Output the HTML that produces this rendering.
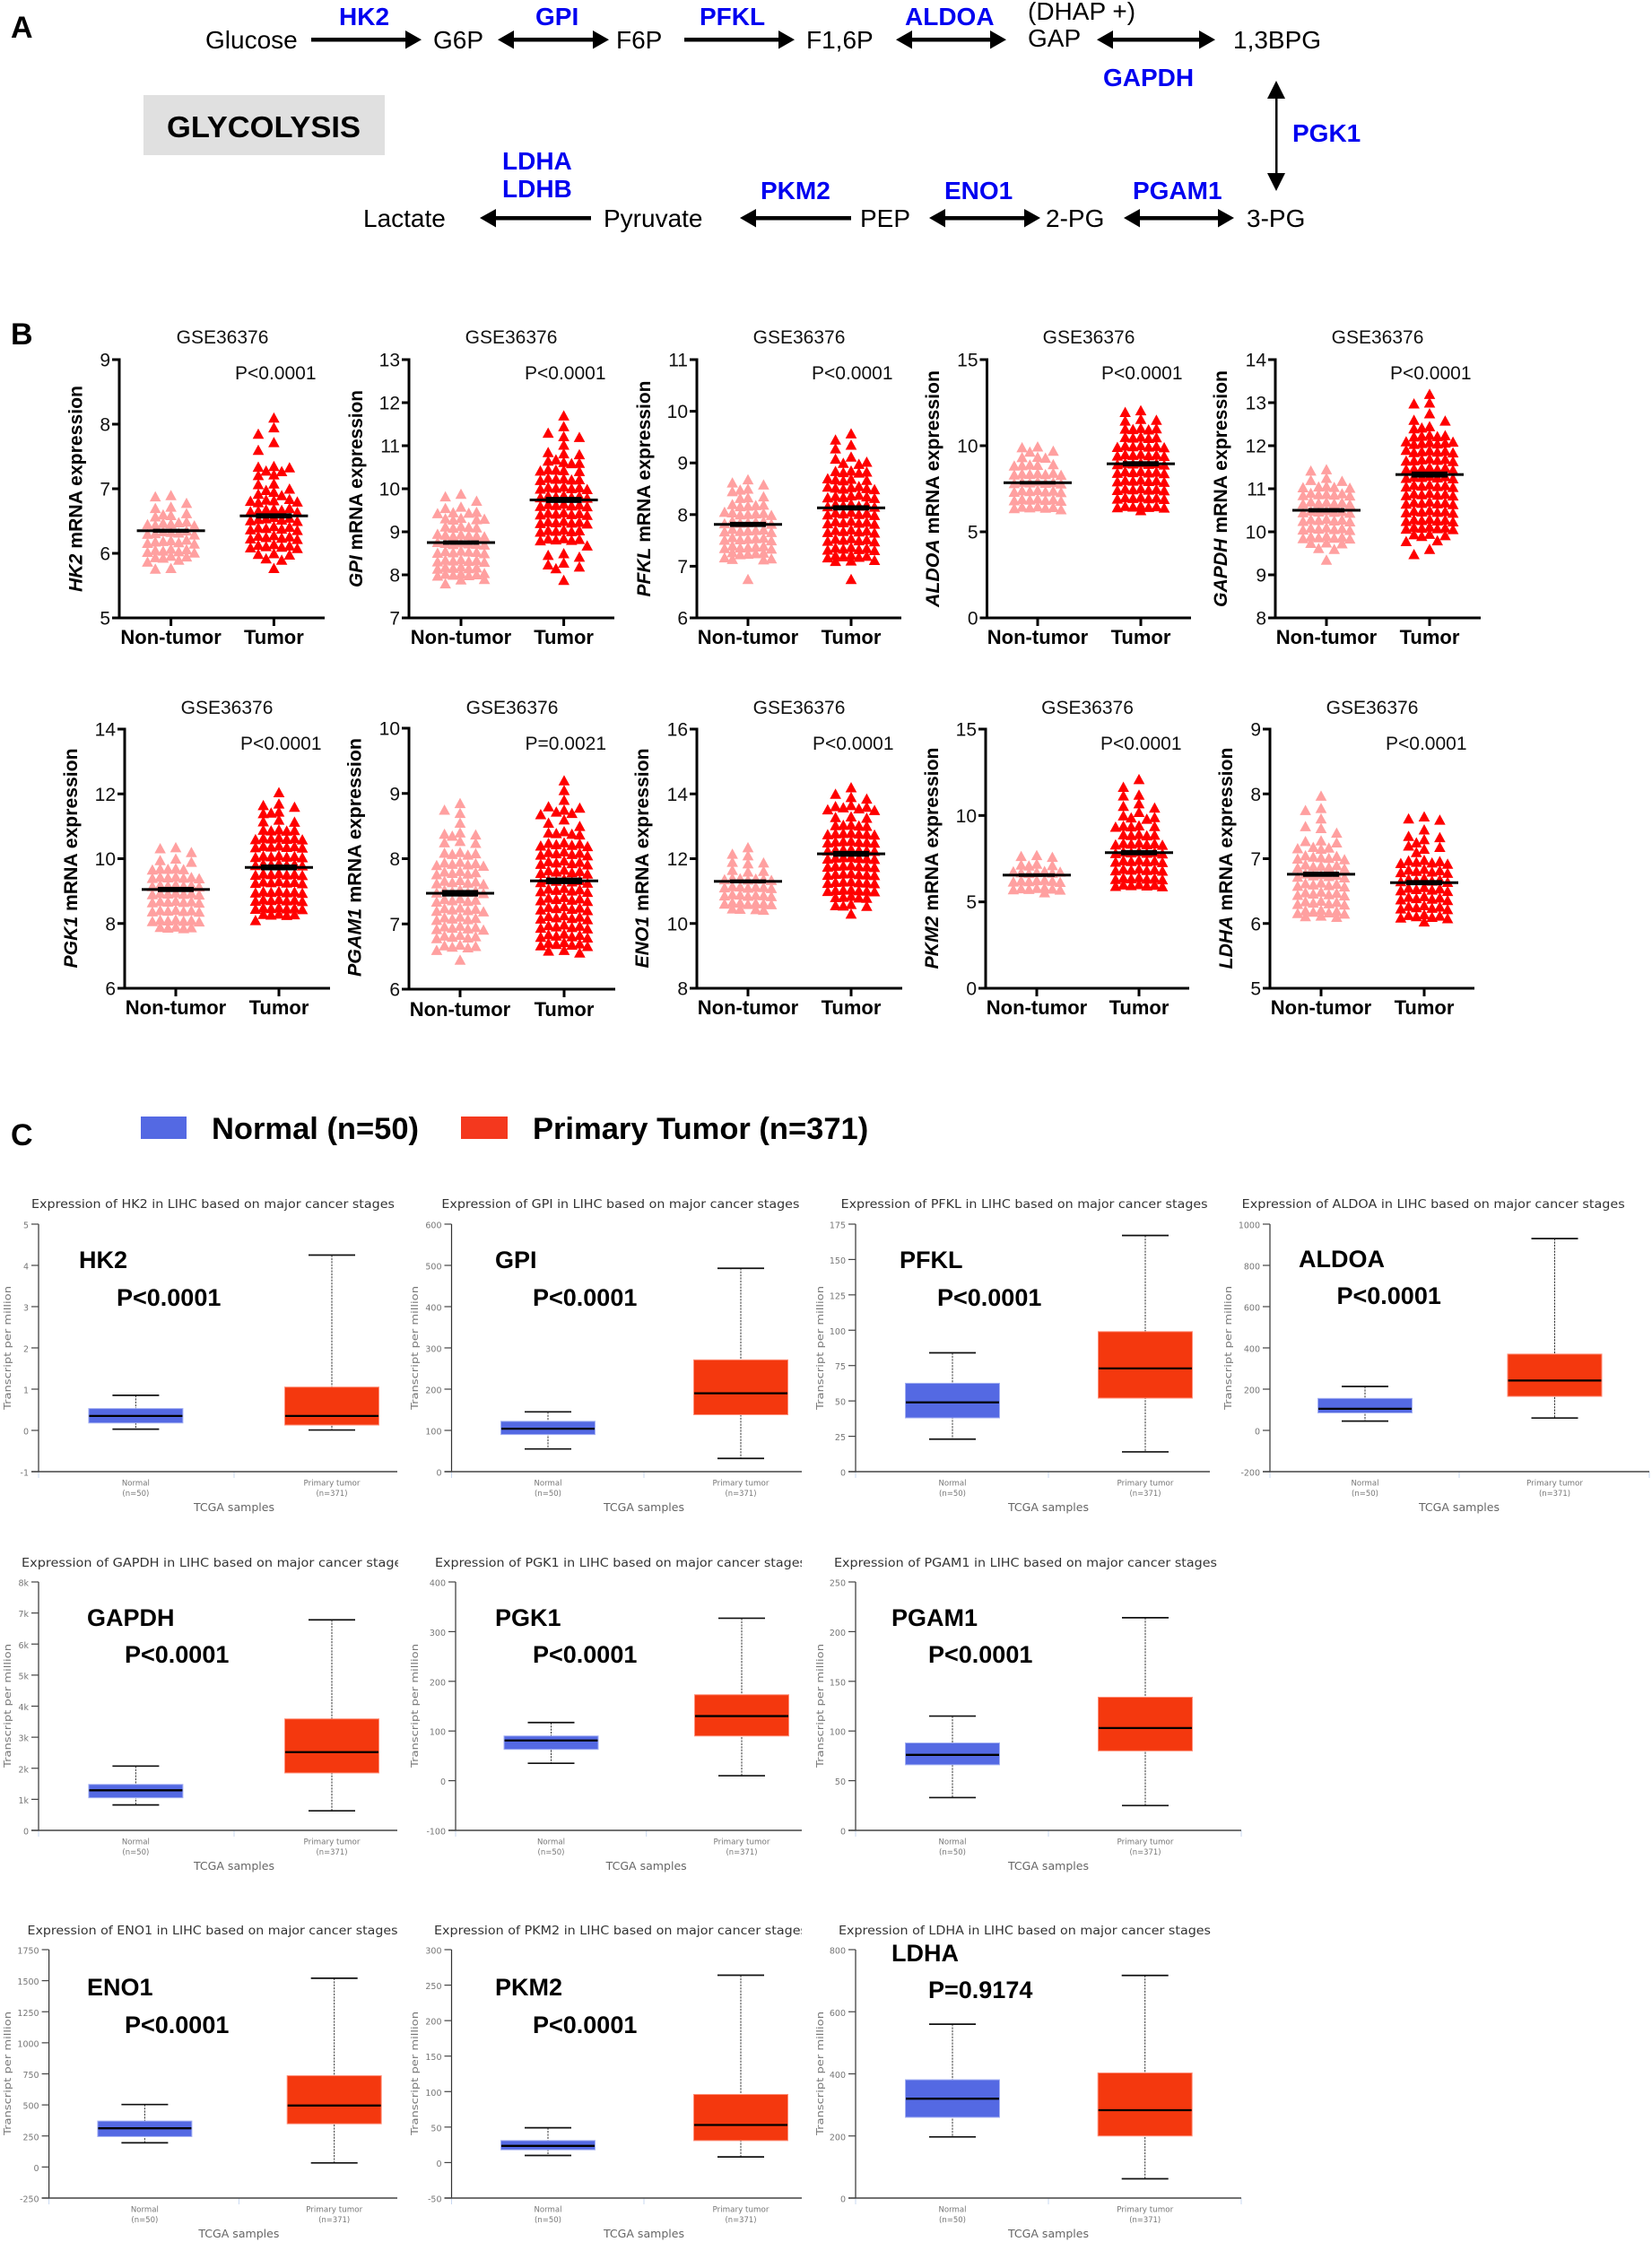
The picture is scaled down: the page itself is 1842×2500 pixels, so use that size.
<!DOCTYPE html>
<html lang="en">
<head>
<meta charset="utf-8">
<title>Glycolysis gene expression figure</title>
<style>
html,body{margin:0;padding:0;background:#fff;}
svg{display:block;}
.lib{font-family:"Liberation Sans",sans-serif;}
.met{font-size:28px;fill:#000;}
.enz{font-size:28px;font-weight:bold;fill:#0000f0;}
.pan{font-size:34px;font-weight:bold;fill:#000;}
</style>
</head>
<body>
<svg id="figure" class="lib" xmlns="http://www.w3.org/2000/svg" width="1842" height="2500" viewBox="0 0 1842 2500">
<defs>
<clipPath id="clip-col1"><rect x="0" y="1300" width="444" height="1200"/></clipPath>
<clipPath id="clip-col2"><rect x="450" y="1300" width="444" height="1200"/></clipPath>
</defs>
<rect width="1842" height="2500" fill="#fff"/>

<g id="panel-a">
<text class="pan" x="12" y="42">A</text>
<rect x="160" y="106" width="269" height="67" fill="#e0e0e0"/>
<text x="186" y="153" font-size="33.5" font-weight="bold" fill="#000" textLength="216" lengthAdjust="spacingAndGlyphs">GLYCOLYSIS</text>

<text class="met" x="229" y="54">Glucose</text>
<text class="met" x="483" y="54">G6P</text>
<text class="met" x="687" y="54">F6P</text>
<text class="met" x="899" y="54">F1,6P</text>
<text class="met" x="1146" y="22">(DHAP +)</text>
<text class="met" x="1146" y="52">GAP</text>
<text class="met" x="1375" y="54">1,3BPG</text>
<text class="met" x="405" y="253">Lactate</text>
<text class="met" x="673" y="253">Pyruvate</text>
<text class="met" x="959" y="253">PEP</text>
<text class="met" x="1166" y="253">2-PG</text>
<text class="met" x="1390" y="253">3-PG</text>

<text class="enz" x="378" y="28">HK2</text>
<text class="enz" x="597" y="28">GPI</text>
<text class="enz" x="780" y="28">PFKL</text>
<text class="enz" x="1009" y="28">ALDOA</text>
<text class="enz" x="1230" y="96">GAPDH</text>
<text class="enz" x="1441" y="158">PGK1</text>
<text class="enz" x="560" y="189">LDHA</text>
<text class="enz" x="560" y="220">LDHB</text>
<text class="enz" x="848" y="222">PKM2</text>
<text class="enz" x="1053" y="222">ENO1</text>
<text class="enz" x="1263" y="222">PGAM1</text>

<g><rect x="347" y="42" width="108" height="4.5"/><polygon points="470,44.3 452,34 452,54.5"/></g>
<g><rect x="570" y="42" width="94" height="4.5"/><polygon points="679,44.3 661,34 661,54.5"/><polygon points="555,44.3 573,34 573,54.5"/></g>
<g><rect x="763" y="42" width="108" height="4.5"/><polygon points="886,44.3 868,34 868,54.5"/></g>
<g><rect x="1014" y="42" width="94" height="4.5"/><polygon points="1122,44.3 1104,34 1104,54.5"/><polygon points="999,44.3 1017,34 1017,54.5"/></g>
<g><rect x="1238" y="42" width="102" height="4.5"/><polygon points="1355,44.3 1337,34 1337,54.5"/><polygon points="1223,44.3 1241,34 1241,54.5"/></g>
<g><rect x="1422" y="105" width="2.5" height="94"/><polygon points="1423,90 1413,110 1433,110"/><polygon points="1423,213 1413,193 1433,193"/></g>
<g><rect x="550" y="241" width="109" height="4.5"/><polygon points="535,243 553,233 553,253.5"/></g>
<g><rect x="840" y="241" width="109" height="4.5"/><polygon points="825,243 843,233 843,253.5"/></g>
<g><rect x="1050" y="241" width="96" height="4.5"/><polygon points="1160,243 1142,233 1142,253.5"/><polygon points="1036,243 1054,233 1054,253.5"/></g>
<g><rect x="1268" y="241" width="94" height="4.5"/><polygon points="1376,243 1358,233 1358,253.5"/><polygon points="1253,243 1271,233 1271,253.5"/></g>
</g>

<text class="pan" x="12" y="384">B</text>
<g id="panel-b"></g>

<g id="panel-c">
<text class="pan" x="12" y="1277">C</text>
<g>
<rect x="157" y="1245" width="51" height="25" fill="#5469e3"/>
<text x="236" y="1270" font-size="34.5" font-weight="bold" fill="#000">Normal (n=50)</text>
<rect x="514" y="1245" width="52" height="25" fill="#f4381e"/>
<text x="594" y="1270" font-size="34.5" font-weight="bold" fill="#000">Primary Tumor (n=371)</text>
</g>
</g>
</svg>

<script>
// ---------- Panel B data ----------
const swarmGenes = ['HK2','GPI','PFKL','ALDOA','GAPDH','PGK1','PGAM1','ENO1','PKM2','LDHA'];
const swarmPValues = ['P<0.0001','P<0.0001','P<0.0001','P<0.0001','P<0.0001','P<0.0001','P=0.0021','P<0.0001','P<0.0001','P<0.0001'];
const swarmCategories = ['Non-tumor','Tumor'];
const swarmTitle = 'GSE36376';
const swarmTicks = [[5,6,7,8,9],[7,8,9,10,11,12,13],[6,7,8,9,10,11],[0,5,10,15],[8,9,10,11,12,13,14],[6,8,10,12,14],[6,7,8,9,10],[8,10,12,14,16],[0,5,10,15],[5,6,7,8,9]];
const swarmMeanNormal = [6.35,8.75,7.81,7.85,10.5,9.05,7.47,11.3,6.55,6.76];
const swarmMeanTumor = [6.58,9.74,8.13,8.95,11.33,9.73,7.66,12.15,7.85,6.63];
const swarmSemNormal = [0.03,0.05,0.05,0.1,0.05,0.08,0.05,0.06,0.1,0.04];
const swarmSemTumor = [0.04,0.07,0.05,0.15,0.07,0.09,0.05,0.09,0.15,0.04];

const hk2Normal = [6.90,6.88,6.78,6.72,6.70,6.62,6.60,6.59,6.57,6.49,6.48,6.47,6.46,6.45,6.44,6.43,6.35,6.34,6.33,6.32,6.31,6.30,6.29,6.21,6.20,6.19,6.18,6.17,6.16,6.15,6.07,6.06,6.05,6.04,6.03,6.02,6.01,5.96,5.95,5.94,5.93,5.90,5.87,5.77,5.76];
const hk2Tumor = [8.10,7.95,7.85,7.72,7.60,7.35,7.34,7.33,7.28,7.27,7.22,7.21,7.08,7.07,7.00,6.98,6.95,6.92,6.90,6.84,6.83,6.82,6.81,6.80,6.79,6.70,6.69,6.68,6.67,6.66,6.65,6.64,6.56,6.55,6.54,6.53,6.52,6.51,6.50,6.42,6.41,6.40,6.39,6.38,6.37,6.36,6.28,6.27,6.26,6.25,6.24,6.23,6.22,6.14,6.13,6.12,6.11,6.10,6.09,6.08,6.00,5.99,5.98,5.92,5.90,5.77];
const gpiNormal = [9.88,9.82,9.72,9.58,9.55,9.46,9.45,9.44,9.43,9.32,9.31,9.30,9.29,9.28,9.13,9.12,9.11,9.10,9.09,8.95,8.94,8.93,8.92,8.91,8.90,8.89,8.76,8.75,8.74,8.73,8.72,8.71,8.70,8.56,8.55,8.54,8.53,8.52,8.51,8.50,8.36,8.35,8.34,8.33,8.32,8.31,8.30,8.19,8.18,8.17,8.16,8.15,8.14,8.04,8.03,8.02,8.01,8.00,7.99,7.98,7.90,7.89,7.80];
const gpiTumor = [11.70,11.45,11.30,11.22,11.20,11.02,10.85,10.82,10.80,10.68,10.65,10.62,10.60,10.59,10.45,10.44,10.43,10.42,10.41,10.25,10.24,10.23,10.22,10.21,10.20,10.05,10.04,10.03,10.02,10.01,10.00,9.99,9.85,9.84,9.83,9.82,9.81,9.80,9.79,9.65,9.64,9.63,9.62,9.61,9.60,9.59,9.45,9.44,9.43,9.42,9.41,9.40,9.39,9.25,9.24,9.23,9.22,9.21,9.20,9.19,9.05,9.04,9.03,9.02,9.01,9.00,8.85,8.84,8.83,8.82,8.81,8.80,8.68,8.50,8.46,8.42,8.28,8.24,8.19,8.15,7.88];
const pfklNormal = [8.68,8.62,8.58,8.50,8.48,8.45,8.35,8.33,8.32,8.20,8.19,8.18,8.17,8.16,8.05,8.04,8.03,8.02,8.01,8.00,7.99,7.88,7.87,7.86,7.85,7.84,7.83,7.82,7.72,7.71,7.70,7.69,7.68,7.67,7.66,7.56,7.55,7.54,7.53,7.52,7.51,7.50,7.40,7.39,7.38,7.37,7.36,7.35,7.34,7.27,7.26,7.25,7.24,7.23,7.17,7.15,7.14,7.13,6.75];
const pfklTumor = [9.57,9.45,9.35,9.28,9.12,9.08,9.02,9.00,8.98,8.85,8.84,8.83,8.82,8.81,8.70,8.69,8.68,8.67,8.66,8.55,8.54,8.53,8.52,8.51,8.50,8.49,8.38,8.37,8.36,8.35,8.34,8.33,8.32,8.21,8.20,8.19,8.18,8.17,8.16,8.15,8.05,8.04,8.03,8.02,8.01,8.00,7.99,7.88,7.87,7.86,7.85,7.84,7.83,7.82,7.71,7.70,7.69,7.68,7.67,7.66,7.65,7.54,7.53,7.52,7.51,7.50,7.49,7.48,7.37,7.36,7.35,7.34,7.33,7.32,7.31,7.22,7.21,7.20,7.19,7.18,7.17,7.12,7.11,7.10,6.75];
const aldoaNormal = [9.95,9.90,9.70,9.65,9.35,9.33,9.30,8.92,8.90,8.88,8.86,8.84,8.42,8.40,8.38,8.36,8.34,8.32,8.30,7.92,7.90,7.88,7.86,7.84,7.82,7.80,7.42,7.40,7.38,7.36,7.34,7.32,7.30,6.92,6.90,6.88,6.86,6.84,6.82,6.80,6.47,6.45,6.43,6.41,6.39,6.37,6.30];
const aldoaTumor = [12.05,11.95,11.55,11.50,11.45,11.02,11.00,10.98,10.96,10.94,10.52,10.50,10.48,10.46,10.44,10.02,10.00,9.98,9.96,9.94,9.92,9.90,9.52,9.50,9.48,9.46,9.44,9.42,9.40,9.02,9.00,8.98,8.96,8.94,8.92,8.90,8.52,8.50,8.48,8.46,8.44,8.42,8.40,8.02,8.00,7.98,7.96,7.94,7.92,7.90,7.52,7.50,7.48,7.46,7.44,7.42,7.40,7.02,7.00,6.98,6.96,6.94,6.92,6.90,6.52,6.50,6.48,6.46,6.44,6.42,6.40,6.25];
const gapdhNormal = [11.45,11.42,11.25,11.20,11.18,11.06,11.05,11.04,11.03,11.02,10.90,10.89,10.88,10.87,10.86,10.85,10.84,10.70,10.69,10.68,10.67,10.66,10.65,10.64,10.50,10.49,10.48,10.47,10.46,10.45,10.44,10.30,10.29,10.28,10.27,10.26,10.25,10.24,10.10,10.09,10.08,10.07,10.06,10.05,10.04,9.90,9.89,9.88,9.87,9.86,9.85,9.84,9.75,9.74,9.73,9.62,9.60,9.35];
const gapdhTumor = [13.20,13.00,12.98,12.75,12.60,12.58,12.45,12.42,12.40,12.25,12.24,12.23,12.22,12.21,12.10,12.09,12.08,12.07,12.06,12.05,12.04,11.90,11.89,11.88,11.87,11.86,11.85,11.84,11.70,11.69,11.68,11.67,11.66,11.65,11.64,11.50,11.49,11.48,11.47,11.46,11.45,11.44,11.30,11.29,11.28,11.27,11.26,11.25,11.24,11.10,11.09,11.08,11.07,11.06,11.05,11.04,10.90,10.89,10.88,10.87,10.86,10.85,10.84,10.70,10.69,10.68,10.67,10.66,10.65,10.64,10.50,10.49,10.48,10.47,10.46,10.45,10.44,10.30,10.29,10.28,10.27,10.26,10.25,10.24,10.12,10.11,10.10,10.09,10.08,10.07,10.06,9.95,9.94,9.92,9.90,9.80,9.78,9.60,9.48];
const pgk1Normal = [10.35,10.32,10.20,10.00,9.95,9.90,9.70,9.69,9.68,9.67,9.66,9.45,9.44,9.43,9.42,9.41,9.40,9.39,9.20,9.19,9.18,9.17,9.16,9.15,9.14,8.95,8.94,8.93,8.92,8.91,8.90,8.89,8.70,8.69,8.68,8.67,8.66,8.65,8.64,8.42,8.41,8.40,8.39,8.38,8.37,8.36,8.12,8.11,8.10,8.09,8.08,8.07,8.06,7.90,7.89,7.88,7.87,7.85];
const pgk1Tumor = [12.05,11.70,11.65,11.60,11.45,11.42,11.40,11.20,11.15,11.14,10.90,10.89,10.88,10.87,10.86,10.65,10.64,10.63,10.62,10.61,10.60,10.59,10.40,10.39,10.38,10.37,10.36,10.35,10.34,10.10,10.09,10.08,10.07,10.06,10.05,10.04,9.85,9.84,9.83,9.82,9.81,9.80,9.79,9.55,9.54,9.53,9.52,9.51,9.50,9.49,9.30,9.29,9.28,9.27,9.26,9.25,9.24,9.00,8.99,8.98,8.97,8.96,8.95,8.94,8.75,8.74,8.73,8.72,8.71,8.70,8.69,8.50,8.49,8.48,8.47,8.46,8.45,8.44,8.30,8.29,8.28,8.27,8.26,8.10];
const pgam1Normal = [8.85,8.75,8.70,8.55,8.40,8.38,8.37,8.35,8.27,8.25,8.24,8.10,8.09,8.08,8.07,8.06,7.95,7.94,7.93,7.92,7.91,7.90,7.89,7.81,7.80,7.79,7.78,7.77,7.76,7.67,7.66,7.65,7.64,7.63,7.62,7.61,7.53,7.52,7.51,7.50,7.49,7.48,7.47,7.39,7.38,7.37,7.36,7.35,7.34,7.25,7.24,7.23,7.22,7.21,7.20,7.19,7.11,7.10,7.09,7.08,7.07,7.06,6.97,6.96,6.95,6.94,6.93,6.92,6.91,6.83,6.82,6.81,6.80,6.79,6.78,6.68,6.67,6.66,6.65,6.64,6.60,6.45];
const pgam1Tumor = [9.20,9.05,8.90,8.80,8.78,8.75,8.72,8.70,8.68,8.60,8.55,8.50,8.42,8.40,8.39,8.38,8.37,8.25,8.24,8.23,8.22,8.21,8.20,8.19,8.11,8.10,8.09,8.08,8.07,8.06,8.05,7.97,7.96,7.95,7.94,7.93,7.92,7.91,7.83,7.82,7.81,7.80,7.79,7.78,7.77,7.69,7.68,7.67,7.66,7.65,7.64,7.63,7.55,7.54,7.53,7.52,7.51,7.50,7.49,7.41,7.40,7.39,7.38,7.37,7.36,7.35,7.27,7.26,7.25,7.24,7.23,7.22,7.21,7.13,7.12,7.11,7.10,7.09,7.08,7.07,6.99,6.98,6.97,6.96,6.95,6.94,6.93,6.85,6.84,6.83,6.82,6.81,6.80,6.79,6.72,6.71,6.70,6.69,6.68,6.67,6.66,6.60,6.59,6.56];
const eno1Normal = [12.35,12.15,12.10,11.90,11.88,11.85,11.65,11.62,11.60,11.40,11.39,11.38,11.37,11.36,11.35,11.34,11.15,11.14,11.13,11.12,11.11,11.10,11.09,10.90,10.89,10.88,10.87,10.86,10.85,10.84,10.65,10.64,10.63,10.62,10.61,10.60,10.59,10.46,10.45,10.44,10.42];
const eno1Tumor = [14.20,14.00,13.90,13.85,13.65,13.62,13.60,13.58,13.55,13.52,13.50,13.30,13.28,13.26,13.05,13.04,13.03,13.02,13.01,12.80,12.79,12.78,12.77,12.76,12.75,12.74,12.55,12.54,12.53,12.52,12.51,12.50,12.49,12.30,12.29,12.28,12.27,12.26,12.25,12.24,12.05,12.04,12.03,12.02,12.01,12.00,11.99,11.80,11.79,11.78,11.77,11.76,11.75,11.74,11.55,11.54,11.53,11.52,11.51,11.50,11.49,11.30,11.29,11.28,11.27,11.26,11.25,11.24,11.05,11.04,11.03,11.02,11.01,11.00,10.99,10.85,10.82,10.81,10.80,10.79,10.60,10.56,10.55,10.54,10.30];
const pkm2Normal = [7.70,7.65,7.60,7.20,7.15,7.12,7.10,6.78,6.76,6.74,6.72,6.70,6.68,6.66,6.27,6.25,6.23,6.21,6.19,6.17,6.15,5.82,5.80,5.78,5.76,5.74,5.72,5.70,5.55];
const pkm2Tumor = [12.10,11.65,11.20,11.15,10.70,10.55,10.45,10.20,10.00,9.90,9.88,9.80,9.42,9.40,9.38,9.36,9.34,8.92,8.90,8.88,8.86,8.84,8.42,8.40,8.38,8.36,8.34,8.32,8.30,7.92,7.90,7.88,7.86,7.84,7.82,7.80,7.42,7.40,7.38,7.36,7.34,7.32,7.30,6.92,6.90,6.88,6.86,6.84,6.82,6.80,6.42,6.40,6.38,6.36,6.34,6.32,6.30,6.02,6.00,5.98,5.96,5.94,5.92,5.90];
const ldhaNormal = [7.97,7.78,7.75,7.62,7.50,7.47,7.40,7.28,7.27,7.25,7.18,7.17,7.16,7.15,7.05,7.04,7.03,7.02,7.01,7.00,6.99,6.91,6.90,6.89,6.88,6.87,6.86,6.85,6.77,6.76,6.75,6.74,6.73,6.72,6.71,6.63,6.62,6.61,6.60,6.59,6.58,6.57,6.49,6.48,6.47,6.46,6.45,6.44,6.43,6.35,6.34,6.33,6.32,6.31,6.30,6.29,6.21,6.20,6.19,6.18,6.17,6.16,6.15,6.12,6.11,6.10];
const ldhaTumor = [7.65,7.62,7.60,7.45,7.35,7.33,7.30,7.25,7.20,7.18,7.15,7.10,6.98,6.97,6.96,6.95,6.94,6.93,6.92,6.84,6.83,6.82,6.81,6.80,6.79,6.78,6.70,6.69,6.68,6.67,6.66,6.65,6.64,6.56,6.55,6.54,6.53,6.52,6.51,6.50,6.42,6.41,6.40,6.39,6.38,6.37,6.36,6.28,6.27,6.26,6.25,6.24,6.23,6.22,6.14,6.13,6.12,6.11,6.10,6.09,6.08,6.03];

const swarmNormal = [hk2Normal,gpiNormal,pfklNormal,aldoaNormal,gapdhNormal,pgk1Normal,pgam1Normal,eno1Normal,pkm2Normal,ldhaNormal];
const swarmTumor = [hk2Tumor,gpiTumor,pfklTumor,aldoaTumor,gapdhTumor,pgk1Tumor,pgam1Tumor,eno1Tumor,pkm2Tumor,ldhaTumor];

// ---------- Panel C data: [low whisker, q1, median, q3, high whisker] ----------
const boxGenes = ['HK2','GPI','PFKL','ALDOA','GAPDH','PGK1','PGAM1','ENO1','PKM2','LDHA'];
const boxPValues = ['P<0.0001','P<0.0001','P<0.0001','P<0.0001','P<0.0001','P<0.0001','P<0.0001','P<0.0001','P<0.0001','P=0.9174'];
const boxNormalStats = [[0.03,0.18,0.35,0.53,0.85],[55,90,104,122,145],[23,38,49,62.5,84],[45,85,105,155,213],[820,1050,1290,1480,2070],[35,63,81,90,117],[33,66,76,88,115],[195,245,312,370,503],[10,18,23.5,31,49],[197,260,320,381,560]];
const boxTumorStats = [[0.01,0.13,0.35,1.05,4.25],[32,138,190,271,493],[14,52,73,99,167],[60,165,242,370,930],[630,1850,2520,3590,6780],[10,90,130,173,327],[25,80,103,134,214],[33,348,495,735,1520],[8,31,53,96,264],[62,200,283,403,717]];
const boxTicks = [[-1,0,1,2,3,4,5],[0,100,200,300,400,500,600],[0,25,50,75,100,125,150,175],[-200,0,200,400,600,800,1000],[0,1000,2000,3000,4000,5000,6000,7000,8000],[-100,0,100,200,300,400],[0,50,100,150,200,250],[-250,0,250,500,750,1000,1250,1500,1750],[-50,0,50,100,150,200,250,300],[0,200,400,600,800]];
const boxCategories = ['Normal','Primary tumor'];
const boxSampleCounts = ['(n=50)','(n=371)'];

// ---------- Layout (pixels, not data) ----------
const swarmLayout = [
 {ax:133,end:362,n:190.6,t:305.4,top:401,bot:689,tx:248,ty:383,px:262,py:423,yx:91.5,yl:230,ly:718},
 {ax:456,end:685,n:514,t:628.6,top:401,bot:689,tx:570,ty:383,px:585,py:423,yx:404,yl:220,ly:718},
 {ax:777,end:1005,n:834,t:949,top:401,bot:689,tx:891,ty:383,px:905,py:423,yx:725,yl:241,ly:718},
 {ax:1100.5,end:1328,n:1157,t:1272,top:401,bot:689,tx:1214,ty:383,px:1228,py:423,yx:1047,yl:264,ly:718},
 {ax:1422,end:1651,n:1479,t:1594,top:401,bot:689,tx:1536,ty:383,px:1550,py:423,yx:1368,yl:264,ly:718},
 {ax:139,end:368,n:196,t:311,top:813,bot:1102,tx:253,ty:796,px:268,py:836,yx:86,yl:245,ly:1131},
 {ax:456,end:686,n:513,t:629,top:812,bot:1103,tx:571,ty:796,px:585.5,py:836,yx:402.5,yl:266,ly:1133},
 {ax:777,end:1006,n:834,t:949,top:813,bot:1102,tx:891,ty:796,px:906,py:836,yx:723,yl:245,ly:1131},
 {ax:1099,end:1326,n:1156,t:1270,top:813,bot:1102,tx:1212.5,ty:796,px:1227,py:836,yx:1046,yl:247,ly:1131},
 {ax:1416,end:1644,n:1473,t:1588,top:813,bot:1102,tx:1530,ty:796,px:1545,py:836,yx:1374,yl:247,ly:1131}
];
const boxLayout = [
 {ax:43,end:443,n:151.4,t:370,sep:261,top:1365,bot:1641,tx:35,tw:405,ty:1347,gx:88,gy:1414,px:130,py:1456,yx:12,yc:1503,clip:'clip-col1'},
 {ax:503.5,end:894,n:611,t:826,sep:718,top:1365,bot:1641,tx:492.4,tw:399,ty:1347,gx:552,gy:1414,px:594,py:1456,yx:466,yc:1503,clip:'clip-col2'},
 {ax:954,end:1349,n:1062,t:1277,sep:1169,top:1365,bot:1641,tx:937.6,tw:409,ty:1347,gx:1003,gy:1414,px:1045,py:1456,yx:918,yc:1503},
 {ax:1416,end:1839,n:1522,t:1733.5,sep:1627,endTick:true,top:1365,bot:1641,tx:1384.7,tw:427,ty:1347,gx:1448,gy:1413,px:1490.5,py:1454,yx:1373,yc:1503},
 {ax:43,end:443,n:151.4,t:370,sep:261,top:1764,bot:2041,tx:24,tw:432,ty:1747,gx:97,gy:1813,px:139,py:1854,yx:12,yc:1902,clip:'clip-col1'},
 {ax:508,end:894,n:614.5,t:827,sep:720.7,top:1764,bot:2041,tx:485,tw:414,ty:1747,gx:552,gy:1813,px:594,py:1854,yx:466,yc:1902,clip:'clip-col2'},
 {ax:954,end:1384,n:1062,t:1277,sep:1169,endTick:true,top:1764,bot:2041,tx:930,tw:427,ty:1747,gx:994,gy:1813,px:1035,py:1854,yx:918,yc:1902},
 {ax:54.6,end:443,n:161.4,t:372.7,sep:266.4,top:2174,bot:2451,tx:30.5,tw:413,ty:2157,gx:97,gy:2225,px:139,py:2267,yx:12,yc:2312,clip:'clip-col1'},
 {ax:503.5,end:894,n:611,t:826,sep:718,top:2174,bot:2451,tx:484,tw:416,ty:2157,gx:552,gy:2225,px:594,py:2267,yx:466,yc:2312,clip:'clip-col2'},
 {ax:954,end:1384,n:1062,t:1276.7,sep:1169,endTick:true,top:2174,bot:2451,tx:935,tw:415,ty:2157,gx:994,gy:2187,px:1035,py:2228,yx:918,yc:2312}
];

const SVGNS = 'http://www.w3.org/2000/svg';
function mk(parent, tag, attrs, text) {
  const el = document.createElementNS(SVGNS, tag);
  for (const k in attrs) el.setAttribute(k, attrs[k]);
  if (text !== undefined) el.textContent = text;
  parent.appendChild(el);
  return el;
}
function linearAxis(domainMin, domainMax, pixelBottom, pixelTop) {
  return function (v) { return pixelBottom - (v - domainMin) / (domainMax - domainMin) * (pixelBottom - pixelTop); };
}
// Beeswarm: each value takes the first preferred column with vertical room.
const COLUMN_ORDER = [0, -2, 2, -1, 1, -3, 3];
const COLUMN_STEP = 8.7;
const MIN_GAP = 9;
function swarm(values, yScale) {
  const lastY = {};
  return values.slice().sort(function (a, b) { return b - a; }).map(function (v) {
    const y = yScale(v);
    let col = null, bestCol = 0, bestGap = -1;
    for (const c of COLUMN_ORDER) {
      const gap = lastY[c] === undefined ? 1e9 : y - lastY[c];
      if (gap >= MIN_GAP) { col = c; break; }
      if (gap > bestGap) { bestGap = gap; bestCol = c; }
    }
    if (col === null) col = bestCol;
    lastY[col] = y;
    return { col: col, y: y };
  });
}

// ---------- Draw panel B ----------
const panelB = document.getElementById('panel-b');
swarmGenes.forEach(function (gene, i) {
  const L = swarmLayout[i];
  const ticks = swarmTicks[i];
  const yScale = linearAxis(ticks[0], ticks[ticks.length - 1], L.bot, L.top);
  const g = mk(panelB, 'g', {});
  
  

  const title = mk(g, 'text', { x: L.tx, y: L.ty, 'text-anchor': 'middle', 'font-size': 21, fill: '#111' }, swarmTitle);
  
  

  const pLabel = mk(g, 'text', { x: L.px, y: L.py, 'font-size': 21, fill: '#111' }, swarmPValues[i]);
  
  

  const yTitle = mk(g, 'text', { x: 0, y: 0, 'text-anchor': 'middle', 'font-size': 21, 'font-weight': 'bold', fill: '#000',
    textLength: L.yl, lengthAdjust: 'spacingAndGlyphs',
    transform: 'translate(' + L.yx + ',' + (L.top + 144) + ') rotate(-90)' });
  
  
  mk(yTitle, 'tspan', { 'font-style': 'italic' }, gene);
  mk(yTitle, 'tspan', {}, ' mRNA expression');

  // swarms
  [[swarmNormal[i], L.n, '#ffa0a0', 'normal-point'], [swarmTumor[i], L.t, '#ff0000', 'tumor-point']].forEach(function (s) {
    swarm(s[0], yScale).forEach(function (p) {
      const x = s[1] + p.col * COLUMN_STEP;
      const tri = mk(g, 'polygon', { points: x + ',' + (p.y - 6) + ' ' + (x - 6.3) + ',' + (p.y + 5.5) + ' ' + (x + 6.3) + ',' + (p.y + 5.5), fill: s[2] });
      
      
    });
  });

  // mean and SEM bars
  [[swarmMeanNormal[i], swarmSemNormal[i], L.n], [swarmMeanTumor[i], swarmSemTumor[i], L.t]].forEach(function (m) {
    const line = mk(g, 'rect', { x: m[2] - 38, y: yScale(m[0]) - 1.5, width: 76, height: 3, fill: '#000' });
    
    
    const sem = mk(g, 'rect', { x: m[2] - 20, y: yScale(m[0] + m[1]), width: 40, height: yScale(m[0] - m[1]) - yScale(m[0] + m[1]), fill: '#000' });
    
    
  });

  // axes
  const yAxis = mk(g, 'line', { x1: L.ax, x2: L.ax, y1: L.top - 1.5, y2: L.bot + 1.5, stroke: '#000', 'stroke-width': 3 });
  
  
  const xAxis = mk(g, 'line', { x1: L.ax - 8, x2: L.end, y1: L.bot, y2: L.bot, stroke: '#000', 'stroke-width': 3 });
  
  
  ticks.forEach(function (t) {
    const mark = mk(g, 'line', { x1: L.ax - 8, x2: L.ax, y1: yScale(t), y2: yScale(t), stroke: '#000', 'stroke-width': 3 });
    
    
    const lab = mk(g, 'text', { x: L.ax - 10, y: yScale(t) + 7.5, 'text-anchor': 'end', 'font-size': 21, fill: '#111' }, t);
    
    
  });
  [L.n, L.t].forEach(function (cx, k) {
    const mark = mk(g, 'line', { x1: cx, x2: cx, y1: L.bot, y2: L.bot + 9, stroke: '#000', 'stroke-width': 3 });
    
    
    const lab = mk(g, 'text', { x: cx, y: L.ly, 'text-anchor': 'middle', 'font-size': 22, 'font-weight': 'bold', fill: '#000' }, swarmCategories[k]);
    
    
  });
});

// ---------- Draw panel C ----------
const panelC = document.getElementById('panel-c');
const DV = '"DejaVu Sans",sans-serif';
function tickText(t, gene) {
  if (gene === 'GAPDH' && t !== 0) return (t / 1000) + 'k';
  return String(t);
}
boxGenes.forEach(function (gene, i) {
  const L = boxLayout[i];
  const ticks = boxTicks[i];
  const yScale = linearAxis(ticks[0], ticks[ticks.length - 1], L.bot, L.top);
  const g = mk(panelC, 'g', {});
  
  

  const titleAttrs = { x: L.tx, y: L.ty, 'font-family': DV, 'font-size': 13, fill: '#333', textLength: L.tw, lengthAdjust: 'spacingAndGlyphs' };
  if (L.clip) titleAttrs['clip-path'] = 'url(#' + L.clip + ')';
  const title = mk(g, 'text', titleAttrs, 'Expression of ' + gene + ' in LIHC based on major cancer stages');
  
  

  const yTitle = mk(g, 'text', { x: 0, y: 0, 'text-anchor': 'middle', 'font-family': DV, 'font-size': 11, fill: '#777',
    textLength: 138, lengthAdjust: 'spacingAndGlyphs', transform: 'translate(' + L.yx + ',' + L.yc + ') rotate(-90)' }, 'Transcript per million');
  
  

  const xTitle = mk(g, 'text', { x: L.sep, y: L.bot + 44, 'text-anchor': 'middle', 'font-family': DV, 'font-size': 12, fill: '#666', textLength: 90, lengthAdjust: 'spacingAndGlyphs' }, 'TCGA samples');
  
  

  // separators under the x axis
  const seps = L.endTick ? [L.ax, L.sep, L.end] : [L.ax, L.sep];
  seps.forEach(function (sx) {
    const sep = mk(g, 'line', { x1: sx, x2: sx, y1: L.bot, y2: L.bot + 7, stroke: '#c8d8f0', 'stroke-width': 1 });
    
    
  });

  // boxes
  [[boxNormalStats[i], L.n, '#5469e3', '#a4b0f2', 'normal-box'], [boxTumorStats[i], L.t, '#f4380e', '#ff8e78', 'tumor-box']].forEach(function (b, k) {
    const s = b[0], cx = b[1];
    const whisker = mk(g, 'line', { x1: cx, x2: cx, y1: yScale(s[4]), y2: yScale(s[0]), stroke: '#333', 'stroke-width': 1, 'stroke-dasharray': '2.2 1.2' });
    
    
    [s[0], s[4]].forEach(function (w) {
      const cap = mk(g, 'line', { x1: cx - 26, x2: cx + 26, y1: yScale(w), y2: yScale(w), stroke: '#111', 'stroke-width': 1.7 });
      
      
    });
    const box = mk(g, 'rect', { x: cx - 52.5, y: yScale(s[3]), width: 105, height: yScale(s[1]) - yScale(s[3]), fill: b[2], stroke: b[3], 'stroke-width': 1 });
    
    
    const med = mk(g, 'line', { x1: cx - 52, x2: cx + 52, y1: yScale(s[2]), y2: yScale(s[2]), stroke: '#000', 'stroke-width': 2.3 });
    
    

    const cat = mk(g, 'text', { x: cx, y: L.bot + 15.5, 'text-anchor': 'middle', 'font-family': DV, 'font-size': 9, fill: '#777', textLength: k ? 63 : 31, lengthAdjust: 'spacingAndGlyphs' }, boxCategories[k]);
    
    
    const cnt = mk(g, 'text', { x: cx, y: L.bot + 27, 'text-anchor': 'middle', 'font-family': DV, 'font-size': 9, fill: '#777', textLength: k ? 35 : 30, lengthAdjust: 'spacingAndGlyphs' }, boxSampleCounts[k]);
    
    
  });

  // axes
  const yAxis = mk(g, 'line', { x1: L.ax, x2: L.ax, y1: L.top, y2: L.bot, stroke: '#333', 'stroke-width': 1.2 });
  
  
  const xAxis = mk(g, 'line', { x1: L.ax - 8, x2: L.end, y1: L.bot, y2: L.bot, stroke: '#444', 'stroke-width': 1.6 });
  
  
  ticks.forEach(function (t) {
    const mark = mk(g, 'line', { x1: L.ax - 8, x2: L.ax, y1: yScale(t), y2: yScale(t), stroke: '#444', 'stroke-width': 1.2 });
    
    
    const lab = mk(g, 'text', { x: L.ax - 11, y: yScale(t) + 4.5, 'text-anchor': 'end', 'font-family': DV, 'font-size': 9.5, fill: '#777' }, tickText(t, gene));
    
    
  });

  const geneLabel = mk(g, 'text', { x: L.gx, y: L.gy, 'font-size': 27, 'font-weight': 'bold', fill: '#000' }, gene);
  
  
  const pLabel = mk(g, 'text', { x: L.px, y: L.py, 'font-size': 27, 'font-weight': 'bold', fill: '#000' }, boxPValues[i]);
  
  
});
</script>
</body>
</html>
